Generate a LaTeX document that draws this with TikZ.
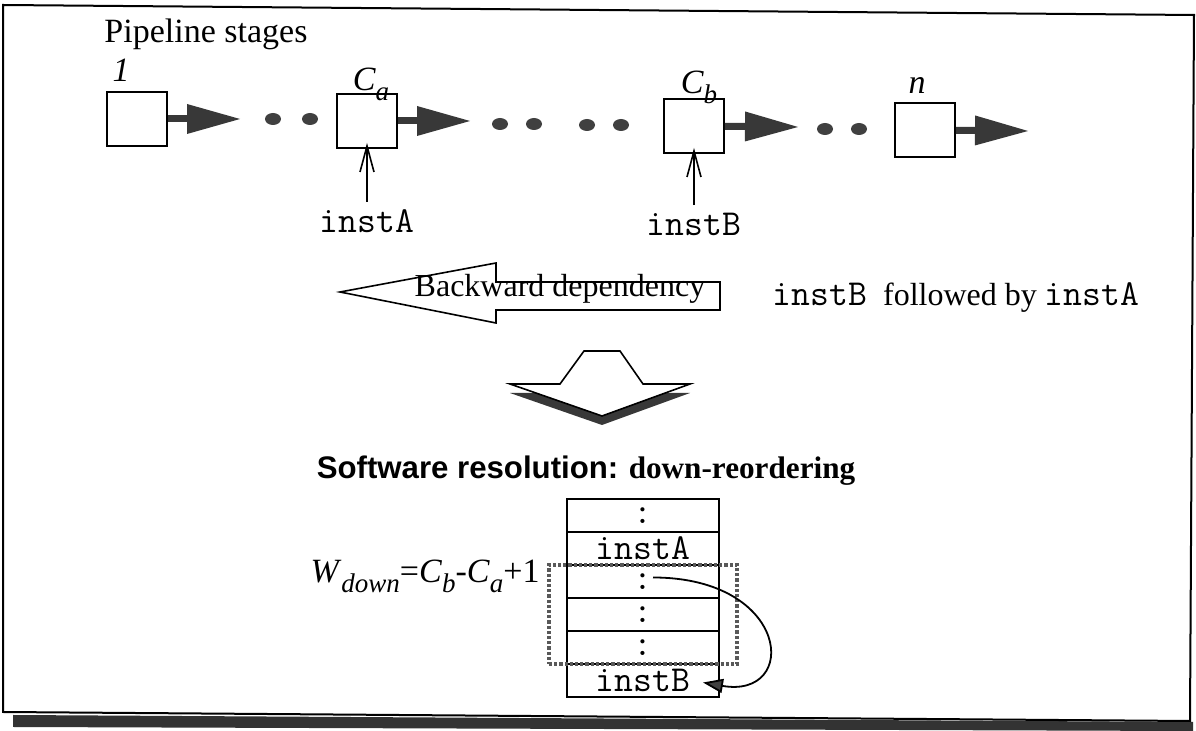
\documentclass[tikz,border=0pt]{standalone}
\usepackage{fontspec}
\setmainfont{Liberation Serif}
\setsansfont{Liberation Sans}
\usetikzlibrary{arrows.meta,positioning,fit}
\newcommand\lowsub[1]{\raisebox{-0.28em}{\fontsize{13.5}{15}\selectfont #1}}

\begin{document}
\begin{tikzpicture}[x=0.5pt,y=-0.5pt,>={Stealth[]},
    txt/.style={font=\fontsize{16}{19}\selectfont,inner sep=0pt},
    code/.style={font=\fontsize{18.3}{21}\selectfont\ttfamily,inner sep=4pt},
    stage/.style={draw,line width=0.9pt,minimum width=30pt,minimum height=27pt,inner sep=0pt},
    stagelbl/.style={font=\fontsize{17}{20}\selectfont\itshape,inner sep=0pt},
    pipe/.style={line width=3.5pt,draw=black!78,-{Triangle[length=26.5pt,width=15pt,line width=0pt]}},
    inarr/.style={line width=0.8pt,-{Straight Barb[length=13pt,width=7pt]},shorten >=-3pt},
    cell/.style={draw,line width=0.9pt,minimum width=76pt,minimum height=16.5pt,outer sep=0pt,inner sep=0pt,font=\fontsize{18.3}{21}\selectfont\ttfamily},
    mv/.style={line width=0.9pt,-{Triangle[length=10pt,width=7pt,fill=black!75]}}]
    \useasboundingbox (0,0) rectangle (1196,731);
    \fill[black!80] (13,715) -- (1193,722) -- (1193,731) -- (13,727) -- cycle;
    \draw[line width=1pt,fill=white] (3,5) -- (1194,15) -- (1190,721) -- (3,712) -- cycle;

    \node[txt,anchor=base,font=\fontsize{17}{20}\selectfont] (title) at (206,43) {Pipeline stages};

    \node[stage] (s1) at (137,119) {};
    \node[stage] (sa) at (367,121) {};
    \node[stage] (sb) at (694,126) {};
    \node[stage] (sn) at (925,130) {};

    \node[stagelbl,anchor=base] (l1) at (121,82) {1};
    \node[stagelbl,anchor=base] (la) at (371,91) {C\lowsub{a}};
    \node[stagelbl,anchor=base] (lb) at (699,94) {C\lowsub{b}};
    \node[stagelbl,anchor=base] (ln) at (917,94) {n};

    \coordinate (t1) at (240,119);
    \coordinate (ta) at (470,121);
    \coordinate (tb) at (798,127);
    \coordinate (tn) at (1028,131);
    \draw[pipe] (s1) -- (t1);
    \draw[pipe] (sa) -- (ta);
    \draw[pipe] (sb) -- (tb);
    \draw[pipe] (sn) -- (tn);

    \fill[black!75] (273,119) ellipse (8 and 6) (310,119) ellipse (8 and 6);
    \fill[black!75] (500,124) ellipse (8 and 6) (534,124) ellipse (8 and 6);
    \fill[black!75] (587,125) ellipse (8 and 6) (621,125) ellipse (8 and 6);
    \fill[black!75] (825,129) ellipse (8 and 6) (859,129) ellipse (8 and 6);

    \node[code,anchor=base] (ia) at (367,233) {instA};
    \node[code,anchor=base] (ib) at (694,236) {instB};
    \draw[inarr] (ia) -- (sa);
    \draw[inarr] (ib) -- (sb);

    \draw[line width=0.8pt,fill=white] (340,292) -- (496,263) -- (496,282) -- (720,282)
        -- (720,310) -- (496,310) -- (496,323) -- cycle;
    \node[txt,anchor=base] (bd) at (560,297) {Backward dependency};
    \node[txt,anchor=base] (fb) at (956,306) {{\fontsize{18.3}{21}\selectfont\ttfamily instB}\ \ followed by {\fontsize{18.3}{21}\selectfont\ttfamily instA}};

    \fill[black!78] (584,360) -- (620,360) -- (643,393) -- (690,393) -- (602,425)
        -- (510,393) -- (560,393) -- cycle;
    \draw[line width=0.8pt,fill=white] (584,351) -- (620,351) -- (643,384) -- (690,384)
        -- (602,416) -- (510,384) -- (560,384) -- cycle;

    \node[txt,anchor=base,font=\fontsize{15.6}{18}\selectfont] (sw) at (586,479) {{\sffamily\bfseries Software resolution:} \textbf{down-reordering}};

    \node[cell] (r1) at (643,515.5) {:};
    \node[cell,below=0pt of r1] (r2) {instA};
    \node[cell,below=0pt of r2] (r3) {:};
    \node[cell,below=0pt of r3] (r4) {:};
    \node[cell,below=0pt of r4] (r5) {:};
    \node[cell,below=0pt of r5] (r6) {instB};
    \node[fit=(r3)(r5),draw=black!65,densely dotted,line width=1.6pt,inner xsep=9pt,inner ysep=0pt] (win) {};

    \node[txt,anchor=base east,font=\fontsize{17}{20}\selectfont] (wd) at (540,583) {\textit{W}\lowsub{\textit{down}}=\textit{C}\lowsub{\textit{b}}-\textit{C}\lowsub{\textit{a}}+1};

    \coordinate (mv0) at ([shift={(10,-4)}]r3.center);
    \coordinate (mv1) at ([shift={(60,2)}]r6.center);
    \draw[mv] (mv0) .. controls +(138,0) and +(97,17) .. (mv1);
\end{tikzpicture}
\end{document}
